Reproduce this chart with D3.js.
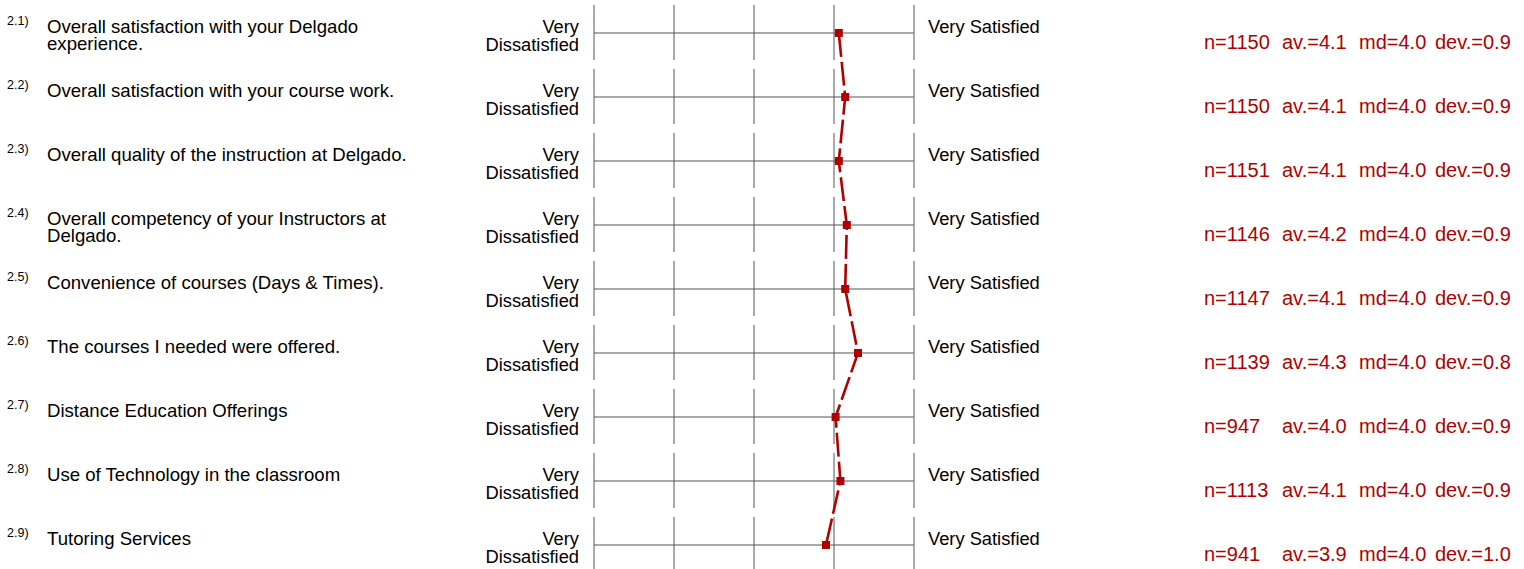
<!DOCTYPE html>
<html>
<head>
<meta charset="utf-8">
<script src="https://cdn.jsdelivr.net/npm/d3@7"></script>
<style>
  body { margin: 0; background: #fff; }
  text { font-family: "Liberation Sans", Arial, sans-serif; }
</style>
</head>
<body>
<div id="chart"></div>
<script>
// Profile line data
const numbers = ["2.1)", "2.2)", "2.3)", "2.4)", "2.5)", "2.6)", "2.7)", "2.8)", "2.9)"];
const questions = [
  ["Overall satisfaction with your Delgado", "experience."],
  ["Overall satisfaction with your course work."],
  ["Overall quality of the instruction at Delgado."],
  ["Overall competency of your Instructors at", "Delgado."],
  ["Convenience of courses (Days & Times)."],
  ["The courses I needed were offered."],
  ["Distance Education Offerings"],
  ["Use of Technology in the classroom"],
  ["Tutoring Services"]
];
const means = [4.06, 4.14, 4.06, 4.16, 4.14, 4.30, 4.02, 4.08, 3.90];
const nValues = ["n=1150", "n=1150", "n=1151", "n=1146", "n=1147", "n=1139", "n=947", "n=1113", "n=941"];
const avValues = ["av.=4.1", "av.=4.1", "av.=4.1", "av.=4.2", "av.=4.1", "av.=4.3", "av.=4.0", "av.=4.1", "av.=3.9"];
const mdValues = ["md=4.0", "md=4.0", "md=4.0", "md=4.0", "md=4.0", "md=4.0", "md=4.0", "md=4.0", "md=4.0"];
const devValues = ["dev.=0.9", "dev.=0.9", "dev.=0.9", "dev.=0.9", "dev.=0.9", "dev.=0.8", "dev.=0.9", "dev.=0.9", "dev.=1.0"];
const scaleTicks = [1, 2, 3, 4, 5];
const leftPole = ["Very", "Dissatisfied"];
const rightPole = "Very Satisfied";

const width = 1524;
const height = 569;
const red = "#b00000";

const svg = d3.select("#chart")
  .append("svg")
  .attr("width", width)
  .attr("height", height);

// Scales
const x = d3.scaleLinear().domain([1, 5]).range([594, 914]);
const y = d3.scalePoint()
  .domain(d3.range(numbers.length))
  .range([33, 33 + 64 * (numbers.length - 1)]);

const rows = svg.selectAll(".row")
  .data(numbers)
  .enter()
  .append("g")
  .attr("class", "row")
  .attr("transform", (d, i) => `translate(0,${y(i)})`);

// Grid: horizontal line and vertical ticks
rows.append("line")
  .attr("x1", x(1))
  .attr("x2", x(5))
  .attr("stroke", "#555")
  .attr("stroke-width", 1);

rows.selectAll(".tick")
  .data(scaleTicks)
  .enter()
  .append("line")
  .attr("x1", (d) => x(d))
  .attr("x2", (d) => x(d))
  .attr("y1", -28)
  .attr("y2", 27)
  .attr("stroke", "#555")
  .attr("stroke-width", 1);

// Item numbers
rows.append("text")
  .attr("x", 7)
  .attr("y", -8)
  .style("font-size", "12.5px")
  .attr("fill", "#000")
  .text((d) => d);

// Question text
rows.append("text")
  .style("font-size", "18.6px")
  .attr("fill", "#000")
  .selectAll("tspan")
  .data((d, i) => questions[i])
  .enter()
  .append("tspan")
  .attr("x", 47)
  .attr("y", (d, j) => (j === 0 ? 0 : 17))
  .text((d) => d);

// Left pole
rows.append("text")
  .attr("text-anchor", "end")
  .style("font-size", "18.3px")
  .selectAll("tspan")
  .data(leftPole)
  .enter()
  .append("tspan")
  .attr("x", 579)
  .attr("y", (d, j) => (j === 0 ? 0 : 18))
  .text((d) => d);

// Right pole
rows.append("text")
  .attr("x", 928)
  .attr("y", 0)
  .style("font-size", "18.3px")
  .text(rightPole);

// Statistics
const statCols = [
  { values: nValues, x: 1204 },
  { values: avValues, x: 1282 },
  { values: mdValues, x: 1359 },
  { values: devValues, x: 1435 }
];
statCols.forEach((col) => {
  rows.append("text")
    .attr("x", col.x)
    .attr("y", 16)
    .style("font-size", "20px")
    .attr("fill", red)
    .text((d, i) => col.values[i]);
});

// Profile line
const line = d3.line()
  .x((d) => x(d))
  .y((d, i) => y(i));

svg.append("path")
  .datum(means)
  .attr("d", line)
  .attr("fill", "none")
  .attr("stroke", red)
  .attr("stroke-width", 2.6)
  .attr("stroke-dasharray", "24,5");

svg.selectAll(".marker")
  .data(means)
  .enter()
  .append("rect")
  .attr("class", "marker")
  .attr("x", (d) => x(d) - 4)
  .attr("y", (d, i) => y(i) - 4)
  .attr("width", 8)
  .attr("height", 8)
  .attr("fill", red);
</script>
</body>
</html>
